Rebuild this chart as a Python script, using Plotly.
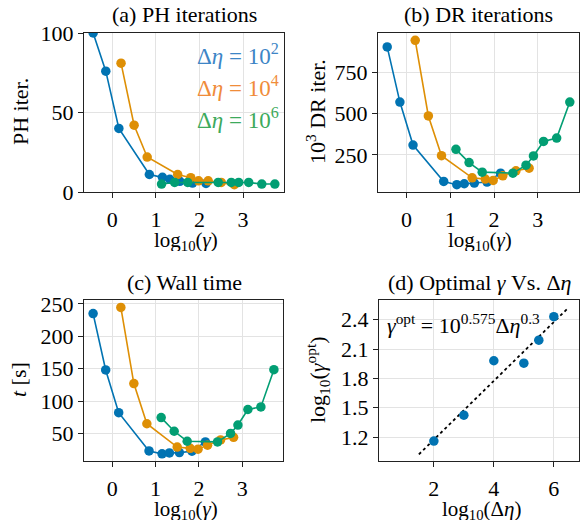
import plotly.graph_objects as go
from plotly.subplots import make_subplots

# ---- data ----
series_names = ["Δ<i>η</i> = 10<sup>2</sup>", "Δ<i>η</i> = 10<sup>4</sup>", "Δ<i>η</i> = 10<sup>6</sup>"]
colors = ["#0173B2", "#DE8F05", "#029E73"]
legend_colors = ["#3D85C6", "#F08C3A", "#3DAA5C"]

log_gamma_e2 = [-0.44, -0.15, 0.15, 0.85, 1.15, 1.32, 1.55, 1.84, 2.15]
log_gamma_e4 = [0.20, 0.50, 0.80, 1.50, 1.80, 1.98, 2.20, 2.50, 2.80]
log_gamma_e6 = [1.13, 1.43, 1.73, 2.43, 2.73, 2.90, 3.13, 3.43, 3.73]

ph_e2 = [100, 76, 40, 11, 9.2, 8, 6.7, 5.6, 5.4]
ph_e4 = [81, 42, 22, 11, 9, 7, 7, 6, 4.6]
ph_e6 = [5, 6, 6, 6, 6, 6, 6, 5, 5]

dr_e2 = [904, 570, 310, 90, 70, 76, 80, 86, 140]
dr_e4 = [944, 486, 246, 112, 104, 96, 124, 154, 170]
dr_e6 = [284, 204, 146, 140, 188, 244, 332, 352, 570]

time_e2 = [235, 148, 82, 23, 18.5, 20, 20.5, 22.6, 37]
time_e4 = [244.6, 127, 65, 29, 27, 25.7, 32, 40, 44]
time_e6 = [74.5, 53.4, 38, 37, 50, 63, 87, 91, 148.5]

log_deta = [2, 3, 4, 5, 5.5, 6]
log_gamma_opt = [1.16, 1.425, 1.98, 1.955, 2.19, 2.43]
fit_intercept = 0.575
fit_slope = 0.3
fit_x = [1.5, 6.5]

xs = [log_gamma_e2, log_gamma_e4, log_gamma_e6]
panels = [[ph_e2, ph_e4, ph_e6], [dr_e2, dr_e4, dr_e6], [time_e2, time_e4, time_e6]]

FONT = "Liberation Serif"
FS = 22

W, H = 583, 522
ML, MR, MT, MB = 84, 4, 33, 61
PW, PH = W - ML - MR, H - MT - MB

def dx(a, b):
    return [(a - ML) / PW, (b - ML) / PW]

def dy(top, bot):
    return [(H - MB - bot) / PH, (H - MB - top) / PH]

fig = make_subplots(rows=2, cols=2)

for p, ys in enumerate(panels):
    r, c = [(1, 1), (1, 2), (2, 1)][p]
    for k in range(3):
        fig.add_trace(go.Scatter(x=xs[k], y=ys[k], mode="lines+markers",
                                 line=dict(color=colors[k], width=1.6),
                                 marker=dict(color=colors[k], size=9.5),
                                 showlegend=False), row=r, col=c)

fig.add_trace(go.Scatter(x=fit_x, y=[fit_intercept + fit_slope * v for v in fit_x],
                         mode="lines", line=dict(color="black", width=1.8, dash="dot"),
                         showlegend=False), row=2, col=2)
fig.add_trace(go.Scatter(x=log_deta, y=log_gamma_opt, mode="markers",
                         marker=dict(color=colors[0], size=9.5), showlegend=False), row=2, col=2)

axstyle = dict(showline=True, linecolor="#222", linewidth=1.2, mirror=True,
               showgrid=True, gridcolor="#e3e3e3", gridwidth=1,
               ticks="outside", ticklen=5, tickcolor="#222", zeroline=False,
               tickfont=dict(family=FONT, size=FS, color="black"))

xr = [-0.65, 3.94]
fig.update_layout(
    xaxis=dict(domain=dx(84, 284), range=xr, tickvals=[0, 1, 2, 3], ticklabelstandoff=2, **axstyle),
    yaxis=dict(domain=dy(33, 192), range=[0, 100], tickvals=[0, 50, 100], **axstyle),
    xaxis2=dict(domain=dx(378, 579), range=xr, tickvals=[0, 1, 2, 3], ticklabelstandoff=2, **axstyle),
    yaxis2=dict(domain=dy(33, 192), range=[26, 988], tickvals=[250, 500, 750], **axstyle),
    xaxis3=dict(domain=dx(84, 283), range=xr, tickvals=[0, 1, 2, 3], ticklabelstandoff=2, **axstyle),
    yaxis3=dict(domain=dy(300, 461), range=[7.5, 256], tickvals=[50, 100, 150, 200, 250], **axstyle),
    xaxis4=dict(domain=dx(379, 579), range=[0.17, 6.84], tickvals=[2, 4, 6], ticklabelstandoff=2, **axstyle),
    yaxis4=dict(domain=dy(300, 461), range=[0.957, 2.60], tickvals=[1.2, 1.5, 1.8, 2.1, 2.4],
                tickformat=".1f", **axstyle),
    width=W, height=H, margin=dict(l=ML, r=MR, t=MT, b=MB),
    plot_bgcolor="white", paper_bgcolor="white",
    font=dict(family=FONT, size=FS, color="black"),
)

def pann(x, y, text, **kw):
    extra = {}
    if "height" in kw:
        extra["height"] = kw["height"]
    fig.add_annotation(x=(x - ML) / PW, y=(H - MB - y) / PH, xref="paper", yref="paper",
                       text=text, showarrow=False, borderpad=0,
                       xanchor=kw.get("xanchor", "center"), yanchor=kw.get("yanchor", "middle"),
                       textangle=kw.get("angle", 0),
                       font=dict(family=FONT, size=kw.get("size", FS), color=kw.get("color", "black")),
                       **extra)

# titles
pann(184, 14, "(a) PH iterations")
pann(478, 14, "(b) DR iterations")
pann(184, 282, "(c) Wall time")
pann(479, 282, "(d) Optimal <i>γ</i> Vs. Δ<i>η</i>")

# axis titles
xl = "log<sub>10</sub>(<i>γ</i>)"
pann(186, 241, xl, size=21, height=20)
pann(480, 241, xl, size=21, height=20)
pann(186, 510, xl, size=21, height=20)
pann(481, 510, "log<sub>10</sub>(Δ<i>η</i>)", size=21, height=20)
pann(20, 112, "PH iter.", angle=-90)
pann(316, 112, "10<sup>3</sup> DR iter.", angle=-90)
pann(18, 380, "<i>t</i> [s]", angle=-90)
pann(317, 380, "log<sub>10</sub>(<i>γ</i><sup>opt</sup>)", angle=-90)

# legend-like coloured labels
for k, yy in enumerate([54, 87, 119]):
    pann(280, yy, series_names[k], color=legend_colors[k], xanchor="right", size=23)

# fit annotation
pann(386, 324, "<i>γ</i><sup>opt</sup> = 10<sup>0.575</sup>Δ<i>η</i><sup>0.3</sup>", xanchor="left", size=22)

fig.write_html("out.html")
